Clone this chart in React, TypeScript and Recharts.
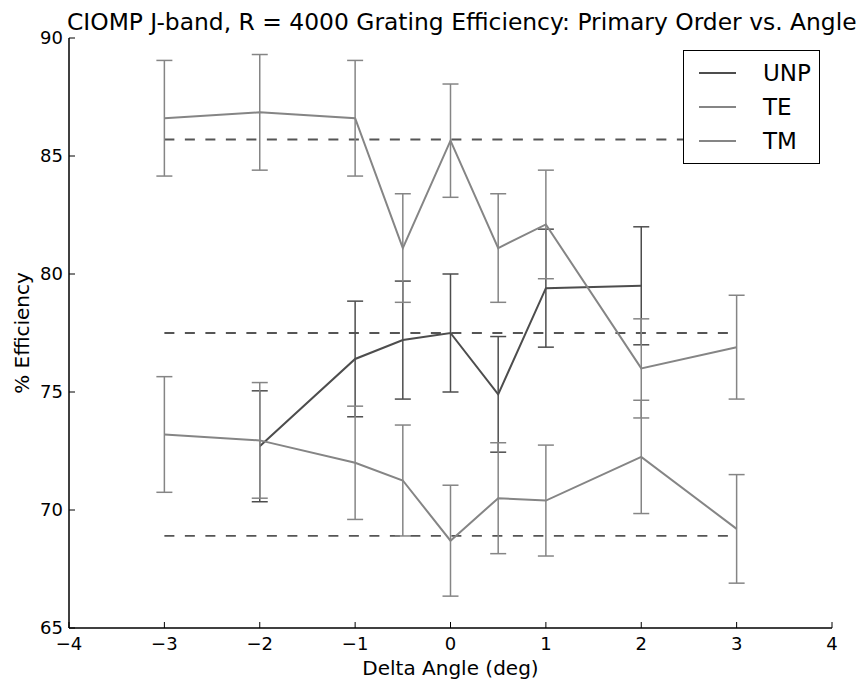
import { ComposedChart, Line, XAxis, YAxis, ErrorBar, ReferenceLine, Legend } from 'recharts';

// angle offsets (deg) where efficiency was measured
const angles = [-3, -2, -1, -0.5, 0, 0.5, 1, 2, 3];

// % efficiency per polarisation, with 1-sigma error
const unp = [null, 72.7, 76.4, 77.2, 77.5, 74.9, 79.4, 79.5, null];
const unpErr = [null, 2.35, 2.45, 2.5, 2.5, 2.45, 2.5, 2.5, null];
const te = [86.6, 86.85, 86.6, 81.1, 85.65, 81.1, 82.1, 76.0, 76.9];
const teErr = [2.45, 2.45, 2.45, 2.3, 2.4, 2.3, 2.3, 2.1, 2.2];
const tm = [73.2, 72.95, 72.0, 71.25, 68.7, 70.5, 70.4, 72.25, 69.2];
const tmErr = [2.45, 2.45, 2.4, 2.35, 2.35, 2.35, 2.35, 2.4, 2.3];

// mean levels (dashed) for TE, UNP, TM
const meanLevels = [85.7, 77.5, 68.9];
const meanFrom = -3;
const meanTo = 3;

const xTicks = [-4, -3, -2, -1, 0, 1, 2, 3, 4];
const yTicks = [65, 70, 75, 80, 85, 90];

const seriesNames = ['UNP', 'TE', 'TM'];
const seriesColors = ['#4d4d4d', '#858585', '#858585'];

const FONT = "'DejaVu Sans', sans-serif";

const data = angles.map((x, i) => ({
  x,
  UNP: unp[i],
  unpErr: unpErr[i],
  TE: te[i],
  teErr: teErr[i],
  TM: tm[i],
  tmErr: tmErr[i],
}));

const fmt = (v: number) => (v < 0 ? `\u2212${-v}` : `${v}`);

const LegendBox = () => (
  <div
    style={{
      width: 137,
      height: 114,
      border: '1.5px solid #000',
      background: '#fff',
      boxSizing: 'border-box',
      position: 'relative',
      fontFamily: FONT,
    }}
  >
    {seriesNames.map((name, i) => (
      <div
        key={name}
        style={{ position: 'absolute', top: 9 + i * 34, left: 0, height: 26, display: 'flex', alignItems: 'center' }}
      >
        <div style={{ marginLeft: 15, width: 37, height: 0, borderTop: `2px solid ${seriesColors[i]}` }} />
        <span style={{ marginLeft: 27, fontSize: 23, color: '#000', lineHeight: '26px' }}>{name}</span>
      </div>
    ))}
  </div>
);

const tickStyle = { fill: '#000', fontSize: 18, fontFamily: FONT };

export default function App() {
  return (
    <div style={{ position: 'absolute', left: 0, top: 0, width: 868, height: 686, background: '#fff' }}>
      <ComposedChart
        width={868}
        height={686}
        data={data}
        margin={{ top: 38, right: 36, bottom: 0, left: 0 }}
      >
        <XAxis
          dataKey="x"
          type="number"
          domain={[-4, 4]}
          ticks={xTicks}
          allowDataOverflow
          height={58}
          tickSize={-6}
          tickMargin={15}
          tickFormatter={fmt}
          tick={tickStyle}
          stroke="#000"
          axisLine={{ stroke: '#000', strokeWidth: 1.5 }}
          tickLine={{ stroke: '#000' }}
          label={{ value: 'Delta Angle (deg)', position: 'insideBottom', offset: 11, fill: '#000', fontSize: 20, fontFamily: FONT }}
        />
        <XAxis
          xAxisId="top"
          orientation="top"
          type="number"
          dataKey="x"
          domain={[-4, 4]}
          ticks={xTicks}
          allowDataOverflow
          height={0}
          tickSize={-6}
          tickFormatter={() => ''}
          axisLine={{ stroke: '#000', strokeWidth: 1.5 }}
          tickLine={{ stroke: '#000' }}
        />
        <YAxis
          type="number"
          domain={[65, 90]}
          ticks={yTicks}
          allowDataOverflow
          width={69}
          tickSize={-6}
          tickMargin={12}
          tick={tickStyle}
          axisLine={{ stroke: '#000', strokeWidth: 1.5 }}
          tickLine={{ stroke: '#000' }}
        />
        <YAxis
          yAxisId="right"
          orientation="right"
          type="number"
          domain={[65, 90]}
          ticks={yTicks}
          allowDataOverflow
          width={0}
          tickSize={-6}
          tickFormatter={() => ''}
          axisLine={{ stroke: '#000', strokeWidth: 1.5 }}
          tickLine={{ stroke: '#000' }}
        />
        {meanLevels.map((lvl, i) => (
          <ReferenceLine
            key={i}
            segment={[{ x: meanFrom, y: lvl }, { x: meanTo, y: lvl }]}
            stroke="#555"
            strokeWidth={1.8}
            strokeDasharray="10 10.5"
          />
        ))}
        <Line dataKey="UNP" name="UNP" stroke={seriesColors[0]} strokeWidth={2} dot={false} isAnimationActive={false}>
          <ErrorBar dataKey="unpErr" direction="y" width={8} stroke={seriesColors[0]} strokeWidth={1.5} isAnimationActive={false} />
        </Line>
        <Line dataKey="TE" name="TE" stroke={seriesColors[1]} strokeWidth={2} dot={false} isAnimationActive={false}>
          <ErrorBar dataKey="teErr" direction="y" width={8} stroke={seriesColors[1]} strokeWidth={1.5} isAnimationActive={false} />
        </Line>
        <Line dataKey="TM" name="TM" stroke={seriesColors[2]} strokeWidth={2} dot={false} isAnimationActive={false}>
          <ErrorBar dataKey="tmErr" direction="y" width={8} stroke={seriesColors[2]} strokeWidth={1.5} isAnimationActive={false} />
        </Line>
        <Legend
          layout="horizontal"
          align="center"
          verticalAlign="middle"
          content={() => <LegendBox />}
          wrapperStyle={{ top: 50, left: 683, width: 137, height: 114 }}
        />
      </ComposedChart>
      <svg
        width={868}
        height={686}
        style={{ position: 'absolute', left: 0, top: 0, pointerEvents: 'none' }}
      >
        <text x={67} y={30} fontSize={23.4} fontFamily={FONT} fill="#000">
          CIOMP J-band, R = 4000 Grating Efficiency: Primary Order vs. Angle
        </text>
        <text
          x={29}
          y={333}
          fontSize={20}
          fontFamily={FONT}
          fill="#000"
          textAnchor="middle"
          transform="rotate(-90 29 333)"
        >
          % Efficiency
        </text>
      </svg>
    </div>
  );
}
